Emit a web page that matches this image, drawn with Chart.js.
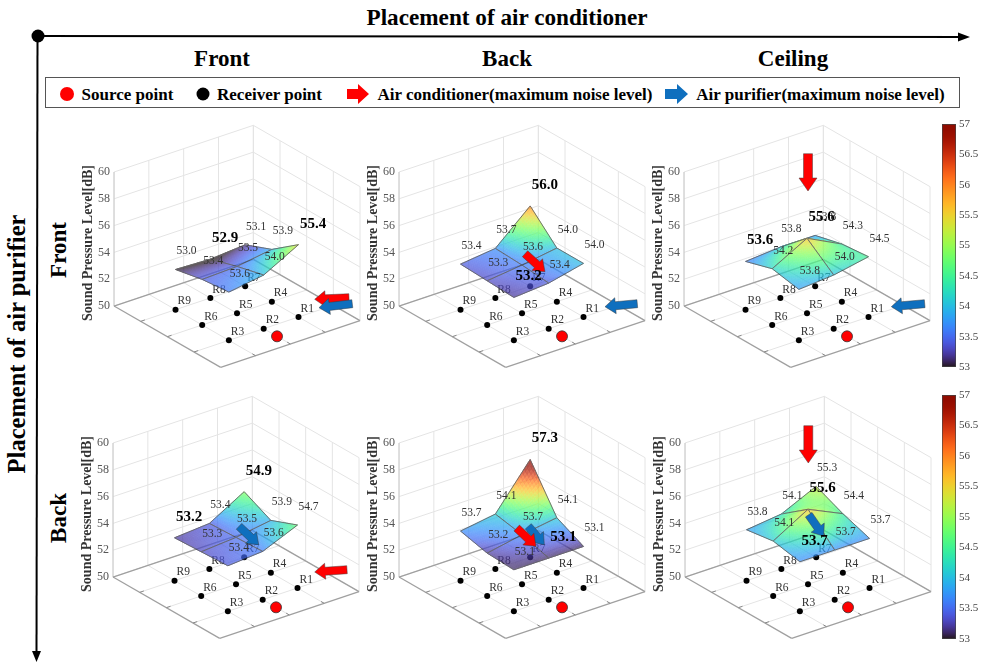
<!DOCTYPE html>
<html>
<head>
<meta charset="utf-8">
<script src="https://cdn.jsdelivr.net/npm/chart.js@4/dist/chart.umd.min.js"></script>
<style>
html,body{margin:0;padding:0;background:#fff;width:984px;height:662px;overflow:hidden}
canvas{position:absolute}
.t{position:absolute;font-family:"Liberation Serif",serif;font-weight:bold;color:#000;white-space:nowrap;line-height:1}
.c{transform:translate(-50%,-50%)}
.r{transform:translate(-50%,-50%) rotate(-90deg)}
svg{position:absolute;left:0;top:0}
</style>
</head>
<body>
<svg width="984" height="662">
  <line x1="38" y1="36" x2="962" y2="37" stroke="#000" stroke-width="2"/>
  <polygon points="970,37 958,32.5 958,41.5" fill="#000"/>
  <line x1="37.5" y1="36" x2="36.5" y2="654" stroke="#000" stroke-width="2"/>
  <polygon points="36.5,662 32,651 41,651" fill="#000"/>
  <circle cx="38" cy="36" r="6.5" fill="#000"/>
  <rect x="45.5" y="77.5" width="914" height="30" fill="#fff" stroke="#555" stroke-width="1"/>
  <circle cx="67" cy="94" r="7" fill="#ff0000"/>
  <circle cx="203" cy="94" r="6.5" fill="#000"/>
  <polygon points="347,89 358,89 358,84 369,94 358,104 358,99 347,99" fill="#ff0000"/>
  <polygon points="665,89 677,89 677,84 688,94 677,104 677,99 665,99" fill="#0f6fbe"/>
</svg>
<div class="t c" style="left:507px;top:18px;font-size:23.2px">Placement of air conditioner</div>
<div class="t c" style="left:222px;top:58px;font-size:23px">Front</div>
<div class="t c" style="left:507px;top:58px;font-size:23px">Back</div>
<div class="t c" style="left:793px;top:58px;font-size:23px">Ceiling</div>
<div class="t c" style="left:127.5px;top:94px;font-size:17px">Source point</div>
<div class="t c" style="left:269.5px;top:94px;font-size:17px">Receiver point</div>
<div class="t c" style="left:515px;top:94px;font-size:17px">Air conditioner(maximum noise level)</div>
<div class="t c" style="left:820.5px;top:94px;font-size:17px">Air purifier(maximum noise level)</div>
<div class="t r" style="left:17px;top:344px;font-size:24.5px">Placement of air purifier</div>
<div class="t r" style="left:58px;top:250px;font-size:23px">Front</div>
<div class="t r" style="left:58px;top:518px;font-size:23px">Back</div>

<script>
// ---- data ----
const receiverLabels = ['R1','R2','R3','R4','R5','R6','R7','R8','R9'];
const receiverU = [3,2,1,3,2,1,3,2,1];
const receiverV = [1,1,1,2,2,2,3,3,3];
const sourceU = 2, sourceV = 0.5;
const zTicks = [50,52,54,56,58,60];
const colorbarMin = 53, colorbarMax = 57;

const frontFront   = [55.4,54.0,53.6,53.9,53.5,53.4,53.1,52.9,53.0];
const frontBack    = [54.0,53.4,53.2,54.0,53.6,53.3,56.0,53.7,53.4];
const frontCeiling = [54.5,54.0,53.8,54.3,55.6,54.2,53.8,53.8,53.6];
const backFront    = [54.7,53.6,53.4,53.9,53.5,53.3,54.9,53.4,53.2];
const backBack     = [53.1,53.1,53.1,54.1,53.7,53.2,57.3,54.1,53.7];
const backCeiling  = [53.7,53.7,53.7,54.4,55.6,54.1,55.3,54.1,53.8];
// indices (into the arrays above) of the values printed in bold
const boldFrontFront = [7,0], boldFrontBack = [2,6], boldFrontCeiling = [8,4];
const boldBackFront = [8,6], boldBackBack = [1,6], boldBackCeiling = [2,4];

// ---- layout / projection ----
const PX_PER_DB = 13.4, AXIS_W = 38, CANVAS_W = 290, ABOVE = 194, BELOW = 68;
const U_STEP = [34.83, 11.67], V_STEP = [-26.67, 15.33], FRONT = [106.7, 61.33];
const RED = '#ff0000', BLUE = '#0f6fbe';

const panels = [
  {values:frontFront,  bold:boldFrontFront,  cx:114, cy:306, arrows:[[RED,200.7,-6.7,235,-8.3],[BLUE,205,1.7,238.3,-2.3]]},
  {values:frontBack,   bold:boldFrontBack,   cx:399, cy:306, arrows:[[BLUE,206,0.7,238.3,-2.3],[RED,146,-34.3,126,-52.3]]},
  {values:frontCeiling,bold:boldFrontCeiling,cx:684, cy:306, arrows:[[BLUE,207.3,0.7,240.7,-2.3],[RED,124,-115,124,-152.3]]},
  {values:backFront,   bold:boldBackFront,   cx:113, cy:577, arrows:[[BLUE,145.7,-32.3,126,-50.7],[RED,201.7,-5,234,-7.3]]},
  {values:backBack,    bold:boldBackBack,    cx:399, cy:577, arrows:[[BLUE,145.3,-32.3,129.3,-50.7],[RED,137,-30.7,117.7,-49]]},
  {values:backCeiling, bold:boldBackCeiling, cx:685, cy:577, arrows:[[RED,123.3,-114,123.3,-151.3],[BLUE,138.7,-40.7,123.7,-62.3]]}
];

function projX(u,v){ return FRONT[0] + u*U_STEP[0] + v*V_STEP[0]; }
function projY(u,v,z){ return z + (-FRONT[1] + u*U_STEP[1] + v*V_STEP[1]) / PX_PER_DB; }

function turbo(t){
  const x = Math.max(0,Math.min(1,t));
  const r = 34.61 + x*(1172.33 - x*(10793.56 - x*(33300.12 - x*(38394.49 - x*14825.05))));
  const g = 23.31 + x*(557.33 + x*(1225.33 - x*(3574.96 - x*(1073.77 + x*707.56))));
  const b = 27.2 + x*(3211.1 - x*(15327.97 - x*(27814 - x*(22569.18 - x*6838.66))));
  const c = v => Math.max(0,Math.min(255,Math.round(v)));
  return `rgb(${c(r)},${c(g)},${c(b)})`;
}
const zColor = z => turbo((z-colorbarMin)/(colorbarMax-colorbarMin));
const noScalePadding = s => { s.paddingTop = s.paddingBottom = s.paddingLeft = s.paddingRight = 0; };

function drawWalls(chart){
  const c = chart.ctx, sx = chart.scales.x, sy = chart.scales.y;
  const P = (u,v,z) => [sx.getPixelForValue(projX(u,v)), sy.getPixelForValue(projY(u,v,z))];
  const seg = (a,b) => { c.beginPath(); c.moveTo(a[0],a[1]); c.lineTo(b[0],b[1]); c.stroke(); };
  c.save();
  c.strokeStyle = '#e4e4e4'; c.lineWidth = 1;
  for (let k=0;k<=4;k++){
    seg(P(k,4,50),P(k,4,60));
    seg(P(4,k,50),P(4,k,60));
    if (k>0 && k<4){ seg(P(k,0,50),P(k,4,50)); seg(P(0,k,50),P(4,k,50)); }
  }
  zTicks.forEach(z => { seg(P(0,4,z),P(4,4,z)); seg(P(4,4,z),P(4,0,z)); });
  c.strokeStyle = '#c9c9c9';
  seg(P(0,4,50),P(0,4,60));
  c.strokeStyle = '#a0a0a0'; c.lineWidth = 1.3;
  seg(P(0,0,50),P(0,4,50)); seg(P(0,0,50),P(4,0,50));
  seg(P(0,4,50),P(4,4,50)); seg(P(4,4,50),P(4,0,50));
  c.strokeStyle = '#888'; c.lineWidth = 1;
  for (let k=1;k<4;k++){
    const a = P(k,0,50), b = P(k,0.12,50); seg(a,b);
    const d = P(0,k,50), e = P(0.12,k,50); seg(d,e);
  }
  c.restore();
}

function drawSurface(chart, values){
  const sx = chart.scales.x, sy = chart.scales.y;
  const off = document.createElement('canvas');
  off.width = chart.width; off.height = chart.height;
  const c = off.getContext('2d');
  const zAt = (u,v) => values[(3-u) + (v-1)*3];
  const P = (u,v,z) => [sx.getPixelForValue(projX(u,v)), sy.getPixelForValue(projY(u,v,z))];
  const N = 16;
  const quads = [[2,2],[1,2],[2,1],[1,1]];
  quads.forEach(([u0,v0]) => {
    const z00=zAt(u0,v0), z10=zAt(u0+1,v0), z01=zAt(u0,v0+1), z11=zAt(u0+1,v0+1);
    const B = (a,b) => z00*(1-a)*(1-b)+z10*a*(1-b)+z01*(1-a)*b+z11*a*b;
    for (let i=N-1;i>=0;i--) for (let j=N-1;j>=0;j--){
      const a0=i/N,a1=(i+1)/N,b0=j/N,b1=(j+1)/N;
      const col = zColor(B((a0+a1)/2,(b0+b1)/2));
      const pts = [[a0,b0],[a1,b0],[a1,b1],[a0,b1]].map(([a,b]) => P(u0+a,v0+b,B(a,b)));
      c.beginPath(); c.moveTo(pts[0][0],pts[0][1]);
      for (let k=1;k<4;k++) c.lineTo(pts[k][0],pts[k][1]);
      c.closePath();
      c.fillStyle = col; c.strokeStyle = col; c.lineWidth = 0.7;
      c.fill(); c.stroke();
    }
    c.strokeStyle = '#2a2a2a'; c.lineWidth = 0.9;
    const e = [P(u0,v0,z00),P(u0+1,v0,z10),P(u0+1,v0+1,z11),P(u0,v0+1,z01)];
    c.beginPath(); c.moveTo(e[0][0],e[0][1]);
    for (let k=1;k<4;k++) c.lineTo(e[k][0],e[k][1]);
    c.closePath(); c.stroke();
  });
  chart.ctx.save();
  chart.ctx.globalAlpha = 0.72;
  chart.ctx.drawImage(off,0,0);
  chart.ctx.restore();
}

function drawArrow(c, x0, y0, a){
  const [col,tx,ty,bx,by] = a;
  const tipX=x0+tx, tipY=y0+ty, tailX=x0+bx, tailY=y0+by;
  const len=Math.hypot(tipX-tailX,tipY-tailY), ux=(tipX-tailX)/len, uy=(tipY-tailY)/len, nx=-uy, ny=ux;
  const hw=len>36?9:8, bw=len>36?4.5:4, hl=len>36?13:10.5;
  const nX=tipX-ux*hl, nY=tipY-uy*hl;
  const p=[[tailX+nx*bw,tailY+ny*bw],[nX+nx*bw,nY+ny*bw],[nX+nx*hw,nY+ny*hw],[tipX,tipY],
           [nX-nx*hw,nY-ny*hw],[nX-nx*bw,nY-ny*bw],[tailX-nx*bw,tailY-ny*bw]];
  c.beginPath(); p.forEach((q,i)=> i?c.lineTo(q[0],q[1]):c.moveTo(q[0],q[1])); c.closePath();
  c.fillStyle=col; c.fill();
  c.strokeStyle='rgba(60,60,60,.8)'; c.lineWidth=0.6; c.stroke();
}

function drawLabels(chart, panel){
  const c = chart.ctx, sx = chart.scales.x, sy = chart.scales.y;
  c.save();
  c.textAlign='center'; c.textBaseline='middle';
  panel.values.forEach((z,i) => {
    const px = sx.getPixelForValue(projX(receiverU[i],receiverV[i]));
    const py = sy.getPixelForValue(projY(receiverU[i],receiverV[i],z));
    if (panel.bold.includes(i)){
      c.font='bold 15px "Liberation Serif"'; c.fillStyle='#000';
      c.fillText(z.toFixed(1), px+14.7, py-21);
    } else {
      c.font='11.5px "Liberation Serif"'; c.fillStyle='#333';
      c.fillText(z.toFixed(1), px+11, py-18);
    }
  });
  c.restore();
}

const surfacePlugin = {
  id:'surface3d',
  beforeDatasetsDraw(chart,args,opts){ drawWalls(chart); },
  afterDatasetsDraw(chart,args,opts){
    const panel = opts.panel, sx = chart.scales.x, sy = chart.scales.y, c = chart.ctx;
    // receiver labels lie under the translucent surface
    c.save();
    c.font='11.5px "Liberation Serif"'; c.fillStyle='#333'; c.textAlign='center'; c.textBaseline='middle';
    receiverLabels.forEach((l,i)=>{
      const px = sx.getPixelForValue(projX(receiverU[i],receiverV[i]));
      const py = sy.getPixelForValue(projY(receiverU[i],receiverV[i],50));
      c.fillText(l, px+8.7, py-8.3);
    });
    c.restore();
    drawSurface(chart, panel.values);
    const x0 = chart.chartArea.left, y0 = sy.getPixelForValue(50);
    panel.arrows.forEach(a => drawArrow(c,x0,y0,a));
    drawLabels(chart,panel);
  }
};

panels.forEach(panel => {
  const cv = document.createElement('canvas');
  const h = ABOVE + BELOW;
  cv.width = CANVAS_W; cv.height = h;
  cv.style.left = (panel.cx - AXIS_W) + 'px';
  cv.style.top = (panel.cy - ABOVE) + 'px';
  document.body.appendChild(cv);
  new Chart(cv, {
    type:'scatter',
    data:{datasets:[
      {label:'Source point',
       data:[{x:projX(sourceU,sourceV),y:projY(sourceU,sourceV,50)}],
       pointRadius:5.5,pointBackgroundColor:RED,pointBorderColor:'#333',pointBorderWidth:0.8,order:1},
      {label:'Receiver point',
       data:receiverU.map((u,i)=>({x:projX(u,receiverV[i]),y:projY(u,receiverV[i],50)})),
       pointRadius:3,pointBackgroundColor:'#000',pointBorderColor:'#000',pointBorderWidth:0,order:2},
      {label:'Sound pressure level',
       data:panel.values.map((z,i)=>({x:projX(receiverU[i],receiverV[i]),y:projY(receiverU[i],receiverV[i],z)})),
       pointRadius:0,order:3}
    ]},
    plugins:[surfacePlugin],
    options:{
      responsive:false,animation:false,devicePixelRatio:1,
      layout:{padding:0,autoPadding:false},
      plugins:{legend:{display:false},tooltip:{enabled:false},surface3d:{panel}},
      scales:{
        x:{type:'linear',display:false,min:0,max:CANVAS_W-AXIS_W},
        y:{type:'linear',position:'left',min:50-BELOW/PX_PER_DB,max:50+ABOVE/PX_PER_DB,
           afterBuildTicks(s){ s.ticks = zTicks.map(v=>({value:v})); },
           afterFit(s){ s.width = AXIS_W; noScalePadding(s); },
           grid:{display:false,drawTicks:false},border:{display:false},
           ticks:{color:'#555',padding:4,autoSkip:false,font:{family:'Liberation Serif',size:12},callback:v=>String(v)},
           title:{display:true,text:'Sound Pressure Level[dB]',color:'#333',padding:{top:4,bottom:0},
                  font:{family:'Liberation Serif',size:14,weight:'bold'}}
        }
      }
    }
  });
});

// colour bars
const colorbarTicks = [53,53.5,54,54.5,55,55.5,56,56.5,57];
[{top:124,bottom:367},{top:395,bottom:639}].forEach(b => {
  const cv = document.createElement('canvas');
  const pad = 7;
  cv.width = 42; cv.height = b.bottom-b.top+2*pad;
  cv.style.left = '942px'; cv.style.top = (b.top-pad)+'px';
  document.body.appendChild(cv);
  new Chart(cv,{
    type:'bar',
    data:{labels:['dB'],datasets:[{data:[[colorbarMin,colorbarMax]],barPercentage:1,categoryPercentage:1,
      borderColor:'#444',borderWidth:1,borderSkipped:false,
      backgroundColor(ctx){
        const a = ctx.chart.chartArea; if(!a) return '#888';
        const g = ctx.chart.ctx.createLinearGradient(0,a.bottom,0,a.top);
        for(let i=0;i<=40;i++) g.addColorStop(i/40,turbo(i/40));
        return g;
      }}]},
    options:{
      responsive:false,animation:false,devicePixelRatio:1,
      layout:{padding:{top:pad,bottom:pad},autoPadding:false},
      plugins:{legend:{display:false},tooltip:{enabled:false}},
      scales:{
        x:{display:false},
        y:{position:'right',min:colorbarMin,max:colorbarMax,
           afterBuildTicks(s){ s.ticks = colorbarTicks.map(v=>({value:v})); },
           afterFit(s){ s.width = 28; noScalePadding(s); },
           grid:{display:false,drawTicks:false},border:{display:false},
           ticks:{color:'#444',padding:3,autoSkip:false,font:{family:'Liberation Serif',size:11},callback:v=>String(v)}}
      }
    }
  });
});
</script>
</body>
</html>
